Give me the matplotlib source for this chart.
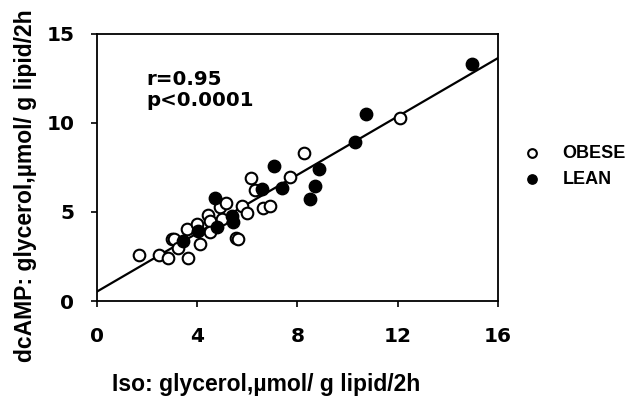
import matplotlib
matplotlib.use('Agg')
import matplotlib.pyplot as plt
import numpy as np

# values
obese_x = [1.7, 2.5, 2.85, 3.0, 3.1, 3.25, 3.6, 3.65, 4.0, 4.1, 4.45, 4.5, 4.5,
           4.9, 5.0, 5.15, 5.55, 5.62, 5.8, 6.0, 6.15, 6.3, 6.65, 6.9, 7.7, 8.25, 12.1]
obese_y = [2.6, 2.6, 2.4, 3.45, 3.45, 2.95, 4.05, 2.4, 4.3, 3.2, 4.8, 4.5, 3.85,
           5.25, 4.6, 5.5, 3.55, 3.45, 5.3, 4.95, 6.9, 6.2, 5.2, 5.3, 6.95, 8.3, 10.27]

lean_x = [3.43, 4.05, 4.7, 4.8, 5.4, 5.45, 6.6, 7.05, 7.4, 8.5, 8.7, 8.85, 10.3, 10.73, 14.97]
lean_y = [3.35, 3.95, 5.75, 4.15, 4.75, 4.45, 6.27, 7.58, 6.33, 5.7, 6.47, 7.4, 8.93, 10.5, 13.3]

fit_intercept = 0.52
fit_slope = 0.819
fit_range = [0, 16]

x_ticks = [0, 4, 8, 12, 16]
y_ticks = [0, 5, 10, 15]


def main():
    plt.rcParams['font.family'] = ['Liberation Sans', 'DejaVu Sans']
    plt.rcParams['font.weight'] = 'bold'

    fig = plt.figure(figsize=(6.32, 3.97), dpi=100)
    ax = fig.add_axes([0.153, 0.2418, 0.635, 0.6738])

    fx = np.array(fit_range, dtype=float)
    ax.plot(fx, fit_intercept + fit_slope * fx, color='black', lw=1.6, zorder=2)

    ax.scatter(obese_x, obese_y, s=70, facecolors='white', edgecolors='black',
               linewidths=1.5, zorder=3, label='OBESE')
    ax.scatter(lean_x, lean_y, s=80, color='black', zorder=4, label='LEAN')

    ax.set_xlim(0, 16)
    ax.set_ylim(0, 15)
    ax.set_xticks(x_ticks)
    ax.set_yticks(y_ticks)
    ax.tick_params(direction='out', length=4, width=1.2, labelsize=14.5)
    ax.tick_params(axis='x', pad=15)
    ax.tick_params(axis='y', pad=12)
    for lab in ax.get_xticklabels() + ax.get_yticklabels():
        lab.set_fontweight('bold')
        lab.set_family('DejaVu Sans')
    for sp in ax.spines.values():
        sp.set_linewidth(1.3)

    ax.text(2.0, 12.95, 'r=0.95\np<0.0001', fontsize=14.3, fontweight='bold',
            family='DejaVu Sans', va='top', ha='left', linespacing=1.15)

    fig.text(266 / 632, 1 - 391.5 / 397, 'Iso: glycerol,\u00b5mol/ g lipid/2h',
             ha='center', va='baseline', fontsize=16.5, fontweight='bold')
    fig.text(26 / 632, 1 - 186 / 397, 'dcAMP: glycerol,\u00b5mol/ g lipid/2h',
             ha='center', va='center', rotation=90, fontsize=16.5, fontweight='bold')

    ax.legend(loc='center left', bbox_to_anchor=(0.827, 0.5806),
              bbox_transform=fig.transFigure, frameon=False, borderpad=0,
              borderaxespad=0, handlelength=1.0, handletextpad=1.2,
              labelspacing=0.5, markerscale=0.75,
              prop={'family': 'Liberation Sans', 'weight': 'bold', 'size': 13})

    fig.savefig('out.png', dpi=100)


if __name__ == '__main__':
    main()
